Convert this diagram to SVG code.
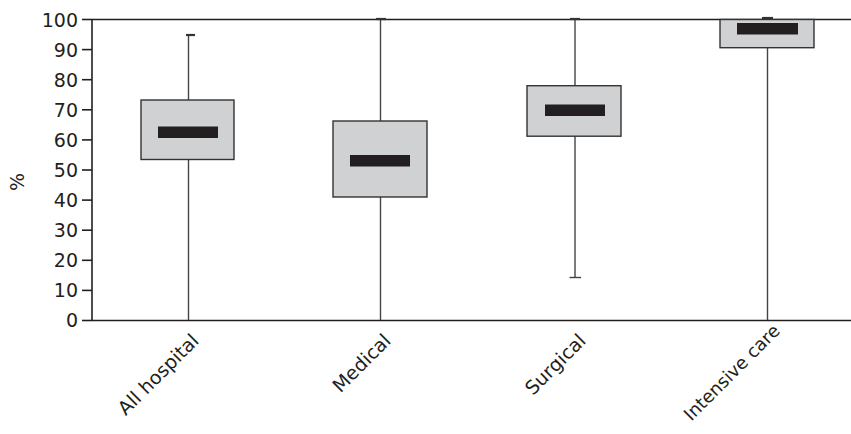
<svg xmlns="http://www.w3.org/2000/svg" width="851" height="434" viewBox="0 0 851 434">
<style>
text{font-family:"DejaVu Sans","Noto Sans",sans-serif;fill:#231f20}
.tick{font-size:19px;text-anchor:end}
.cat{font-size:19px;text-anchor:end}
.axis{stroke:#231f20;stroke-width:1.6;fill:none}
.box{fill:#d0d1d3;stroke:#333;stroke-width:1.4}
.med{fill:#231f20}
.wh{stroke:#444;stroke-width:1.4}
.cap{stroke:#333;stroke-width:2.2}
</style>
<rect width="851" height="434" fill="#fff"/>
<g id="axes">
<line class="axis" x1="92" y1="19.5" x2="851" y2="19.5"/>
<line class="axis" x1="92" y1="320.5" x2="851" y2="320.5"/>
<line class="axis" x1="92" y1="19" x2="92" y2="321"/>
<g class="axis">
<line x1="82" y1="19.5" x2="92" y2="19.5"/><line x1="82" y1="49.6" x2="92" y2="49.6"/>
<line x1="82" y1="79.7" x2="92" y2="79.7"/><line x1="82" y1="109.8" x2="92" y2="109.8"/>
<line x1="82" y1="139.9" x2="92" y2="139.9"/><line x1="82" y1="170" x2="92" y2="170"/>
<line x1="82" y1="200.1" x2="92" y2="200.1"/><line x1="82" y1="230.2" x2="92" y2="230.2"/>
<line x1="82" y1="260.3" x2="92" y2="260.3"/><line x1="82" y1="290.4" x2="92" y2="290.4"/>
<line x1="82" y1="320.5" x2="92" y2="320.5"/>
</g>
<g class="tick">
<text x="78" y="26.5">100</text><text x="78" y="56.5">90</text><text x="78" y="86.5">80</text>
<text x="78" y="116.5">70</text><text x="78" y="146.5">60</text><text x="78" y="176.5">50</text>
<text x="78" y="207">40</text><text x="78" y="237">30</text><text x="78" y="267">20</text>
<text x="78" y="297">10</text><text x="78" y="327">0</text>
</g>
<text transform="translate(24,182) rotate(-90)" style="font-size:19px;text-anchor:middle">%</text>
</g>
<g id="all-hospital">
<line class="wh" x1="188.5" y1="35" x2="188.5" y2="320"/>
<line class="cap" x1="186" y1="35" x2="195" y2="35"/>
<rect class="box" x="141" y="100" width="93" height="59.5"/>
<rect class="med" x="158" y="126.5" width="60" height="11.5"/>
<text class="cat" transform="translate(200,342) rotate(-45)">All hospital</text>
</g>
<g id="medical">
<line class="wh" x1="380.5" y1="19" x2="380.5" y2="320"/>
<line class="cap" x1="376" y1="19" x2="386" y2="19"/>
<rect class="box" x="333" y="121" width="94" height="76"/>
<rect class="med" x="350" y="155" width="60" height="11.5"/>
<text class="cat" transform="translate(392,342) rotate(-45)">Medical</text>
</g>
<g id="surgical">
<line class="wh" x1="575" y1="19" x2="575" y2="277.5"/>
<line class="cap" x1="570" y1="19" x2="580" y2="19"/>
<line class="wh" x1="569.5" y1="277.5" x2="581" y2="277.5"/>
<rect class="box" x="527" y="85.7" width="94" height="50.5"/>
<rect class="med" x="545" y="104.5" width="60" height="11.5"/>
<text class="cat" transform="translate(587,342) rotate(-45)">Surgical</text>
</g>
<g id="intensive-care">
<line class="wh" x1="767.5" y1="18" x2="767.5" y2="320"/>
<line class="cap" x1="762" y1="18" x2="773" y2="18"/>
<rect class="box" x="720" y="19.5" width="94" height="28.2"/>
<rect class="med" x="737" y="23" width="61" height="11.5"/>
<text class="cat" style="font-size:18px" transform="translate(781,332) rotate(-45)">Intensive care</text>
</g>
</svg>
